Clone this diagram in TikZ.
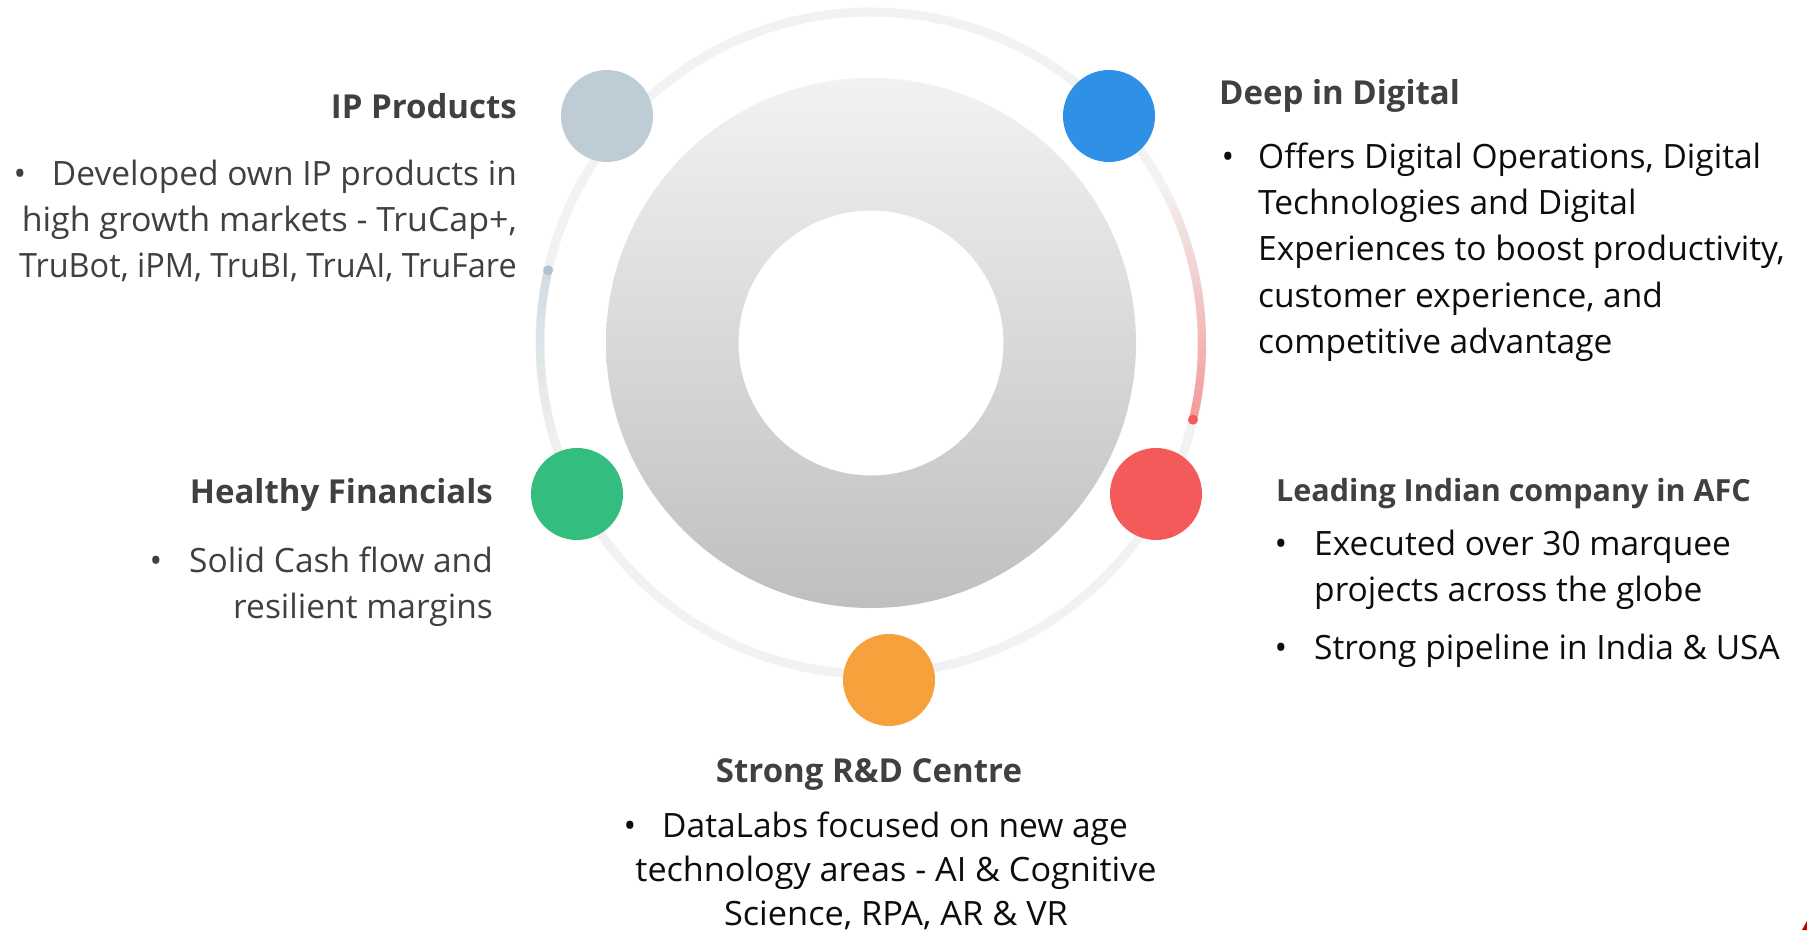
\documentclass[tikz,border=0pt]{standalone}
\usepackage{fontspec}
\setmainfont{Open Sans}
\definecolor{headgray}{HTML}{404040}
\definecolor{bodygray}{HTML}{404040}
\definecolor{bodyblack}{HTML}{0D0D0D}
\definecolor{trackgray}{HTML}{F2F2F2}
\definecolor{ringtop}{HTML}{F2F2F2}
\definecolor{ringbot}{HTML}{BFBFBF}
\definecolor{ipcol}{HTML}{BDCCD5}
\definecolor{ipdot}{HTML}{B3C3CE}
\definecolor{digcol}{HTML}{2F91E6}
\definecolor{fincol}{HTML}{33BD7E}
\definecolor{afccol}{HTML}{F55A5A}
\definecolor{rdcol}{HTML}{F6A13C}
\definecolor{logored}{HTML}{C00000}
\tikzset{
  headtxt/.style={font=\fontsize{33}{40}\selectfont\bfseries, text=headgray, inner sep=0pt},
  bodytxt/.style={font=\fontsize{33.5}{40}\selectfont, inner sep=0pt},
  bul/.style={font=\fontsize{33.5}{40}\selectfont, inner sep=0pt, anchor=base},
  bigdot/.style={circle, minimum size=92pt, inner sep=0pt},
  smalldot/.style={circle, minimum size=10pt, inner sep=0pt},
}
\begin{document}
\begin{tikzpicture}[x=1pt,y=1pt]
\useasboundingbox (0,0) rectangle (1807,930);
\fill[white] (0,0) rectangle (1807,930);
\coordinate (ctr) at (871,587);
% track
\draw[trackgray, line width=9pt] (ctr) circle (331);
% gradient ring
\shade[top color=ringtop, bottom color=ringbot, even odd rule] (ctr) circle (265) (ctr) circle (132.5);
% red comet tail
\foreach \i in {0,...,39} {
  \pgfmathsetmacro{\a}{28-41.4*\i/40}
  \pgfmathsetmacro{\b}{28-41.4*(\i+1)/40-0.4}
  \pgfmathtruncatemacro{\p}{58*(\i+1)/40}
  \draw[line width=8pt, color=afccol!\p!trackgray] (ctr) ++(\a:331) arc[start angle=\a, end angle=\b, radius=331];
}
% blue-gray comet tail
\foreach \i in {0,...,29} {
  \pgfmathsetmacro{\a}{200-32.7*\i/30}
  \pgfmathsetmacro{\b}{200-32.7*(\i+1)/30-0.4}
  \pgfmathtruncatemacro{\p}{60*(\i+1)/30}
  \draw[line width=8pt, color=ipcol!\p!trackgray] (ctr) ++(\a:331) arc[start angle=\a, end angle=\b, radius=331];
}
\node[smalldot, fill=afccol] (reddot) at ([shift={(-13.4:331)}]ctr) {};
\node[smalldot, fill=ipdot] (bluedot) at ([shift={(167.3:331)}]ctr) {};
% big circles
\node[bigdot, fill=ipcol] (ip) at (607,814) {};
\node[bigdot, fill=digcol] (dig) at (1109,814) {};
\node[bigdot, fill=fincol] (fin) at (577,436) {};
\node[bigdot, fill=afccol] (afc) at (1156,436) {};
\node[bigdot, fill=rdcol] (rd) at (889,250) {};
% IP Products
\node[headtxt, anchor=base east] (iph) at (517,811) {IP Products};
\node[bul, text=bodygray] (ipb1) at (20,744) {•};
\node[bodytxt, text=bodygray, anchor=base east] (ipl1) at (517,744) {Developed own IP products in};
\node[bodytxt, text=bodygray, anchor=base east] (ipl2) at (517,698) {\scalebox{1.013}[1]{high growth markets - TruCap+,}};
\node[bodytxt, text=bodygray, anchor=base east] (ipl3) at (517,652) {\scalebox{0.968}[1]{TruBot, iPM, TruBI, TruAI, TruFare}};
% Deep in Digital
\node[headtxt, anchor=base west] (digh) at (1219,825) {Deep in Digital};
\node[bul, text=bodyblack] (digb1) at (1228,761) {•};
\node[bodytxt, text=bodyblack, anchor=base west] (digl1) at (1258,761) {Offers Digital Operations, Digital};
\node[bodytxt, text=bodyblack, anchor=base west] (digl2) at (1258,715) {Technologies and Digital};
\node[bodytxt, text=bodyblack, anchor=base west] (digl3) at (1258,669) {Experiences to boost productivity,};
\node[bodytxt, text=bodyblack, anchor=base west] (digl4) at (1258,622) {customer experience, and};
\node[bodytxt, text=bodyblack, anchor=base west] (digl5) at (1258,576) {competitive advantage};
% Healthy Financials
\node[headtxt, anchor=base east] (finh) at (493,426) {Healthy Financials};
\node[bul, text=bodygray] (finb1) at (156,357) {•};
\node[bodytxt, text=bodygray, anchor=base east] (finl1) at (493,357) {Solid Cash flow and};
\node[bodytxt, text=bodygray, anchor=base east] (finl2) at (493,312) {resilient margins};
% Leading Indian company in AFC
\node[headtxt, font=\fontsize{30.5}{38}\selectfont\bfseries, anchor=base west] (afch) at (1276,428) {Leading Indian company in AFC};
\node[bul, text=bodyblack] (afcb1) at (1281,374) {•};
\node[bodytxt, text=bodyblack, anchor=base west] (afcl1) at (1314,374) {Executed over 30 marquee};
\node[bodytxt, text=bodyblack, anchor=base west] (afcl2) at (1314,328) {projects across the globe};
\node[bul, text=bodyblack] (afcb2) at (1281,271) {•};
\node[bodytxt, text=bodyblack, anchor=base west] (afcl3) at (1314,271) {Strong pipeline in India \& USA};
% Strong R&D Centre
\node[headtxt, anchor=base] (rdh) at (869,148) {Strong R\&D Centre};
\node[bul, text=bodyblack] (rdb1) at (630,93) {•};
\node[bodytxt, text=bodyblack, anchor=base] (rdl1) at (895,93) {DataLabs focused on new age};
\node[bodytxt, text=bodyblack, anchor=base] (rdl2) at (896,49) {\scalebox{1.02}[1]{technology areas - AI \& Cognitive}};
\node[bodytxt, text=bodyblack, anchor=base] (rdl3) at (896,5) {\scalebox{1.025}[1]{Science, RPA, AR \& VR}};
% corner mark
\fill[logored] (1802,0) -- (1807,9) -- (1807,0) -- cycle;
\end{tikzpicture}
\end{document}
